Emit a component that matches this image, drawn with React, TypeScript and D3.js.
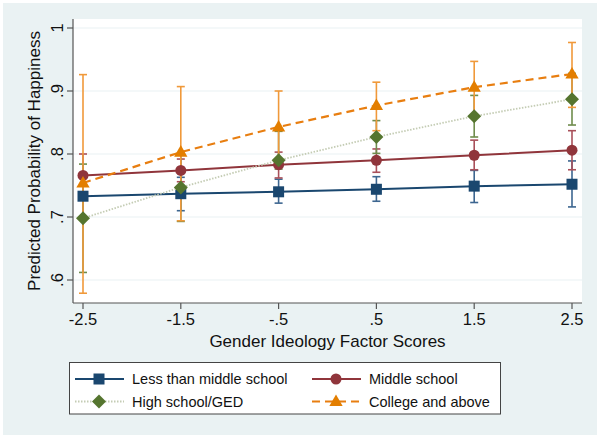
import React from "react";
import * as d3 from "d3";

const xValues = [-2.5, -1.5, -0.5, 0.5, 1.5, 2.5];
const xTickLabels = ["-2.5", "-1.5", "-.5", ".5", "1.5", "2.5"];
const yTicks = [0.6, 0.7, 0.8, 0.9, 1];
const yTickLabels = [".6", ".7", ".8", ".9", "1"];

const lessEst = [0.733, 0.737, 0.740, 0.744, 0.749, 0.752];
const lessLo = [0.700, 0.710, 0.722, 0.725, 0.723, 0.716];
const lessHi = [0.766, 0.763, 0.760, 0.764, 0.774, 0.789];

const midEst = [0.766, 0.774, 0.783, 0.790, 0.798, 0.806];
const midLo = [0.732, 0.756, 0.762, 0.771, 0.775, 0.775];
const midHi = [0.800, 0.792, 0.803, 0.808, 0.822, 0.837];

const hsEst = [0.698, 0.747, 0.790, 0.827, 0.860, 0.887];
const hsLo = [0.612, 0.693, 0.776, 0.801, 0.827, 0.846];
const hsHi = [0.784, 0.800, 0.836, 0.853, 0.893, 0.928];

const colEst = [0.754, 0.803, 0.843, 0.877, 0.906, 0.927];
const colLo = [0.579, 0.694, 0.785, 0.837, 0.862, 0.874];
const colHi = [0.926, 0.907, 0.900, 0.914, 0.947, 0.977];

const seriesNames = ["Less than middle school", "Middle school", "High school/GED", "College and above"];

type Series = {
  name: string;
  est: number[];
  lo: number[];
  hi: number[];
  marker: string;
  color: string;
  ciColor: string;
  lineColor: string;
  dash: string;
  lineWidth: number;
};

const series: Series[] = [
  { name: seriesNames[0], est: lessEst, lo: lessLo, hi: lessHi, marker: "square", color: "#1a476f", ciColor: "#3d6690", lineColor: "#1a476f", dash: "", lineWidth: 2 },
  { name: seriesNames[1], est: midEst, lo: midLo, hi: midHi, marker: "circle", color: "#90353b", ciColor: "#a9505a", lineColor: "#90353b", dash: "", lineWidth: 2 },
  { name: seriesNames[2], est: hsEst, lo: hsLo, hi: hsHi, marker: "diamond", color: "#55752f", ciColor: "#6f8c4c", lineColor: "#c4ccb4", dash: "1.5 1.5", lineWidth: 1.8 },
  { name: seriesNames[3], est: colEst, lo: colLo, hi: colHi, marker: "triangle", color: "#e37e00", ciColor: "#f0993a", lineColor: "#e87e10", dash: "8 5", lineWidth: 2.2 },
];

const W = 600;
const H = 438;
const plotL = 73;
const plotR = 582;
const plotT = 19;
const plotB = 303;

const x = d3.scaleLinear().domain([-2.5, 2.5]).range([83, 572]);
const y = d3.scaleLinear().domain([0.6, 1]).range([280, 28]);

const FONT = "'Liberation Sans', Arial, Helvetica, sans-serif";

function Marker({ type, cx, cy, color }: { type: string; cx: number; cy: number; color: string }) {
  if (type === "square") {
    const s = 11;
    return <rect x={cx - s / 2} y={cy - s / 2} width={s} height={s} fill={color} />;
  }
  if (type === "circle") {
    return <circle cx={cx} cy={cy} r={5.5} fill={color} />;
  }
  if (type === "diamond") {
    const r = 7;
    return <path d={`M${cx},${cy - r}L${cx + r},${cy}L${cx},${cy + r}L${cx - r},${cy}Z`} fill={color} />;
  }
  const r = 7;
  return <path d={`M${cx},${cy - r}L${cx + r * 0.95},${cy + r * 0.65}L${cx - r * 0.95},${cy + r * 0.65}Z`} fill={color} />;
}

export default function App() {
  const line = d3
    .line<number>()
    .x((_, i) => x(xValues[i]))
    .y((d) => y(d));

  const capW = 4;

  const legendRows = [
    { s: series[0], lx: 75, ly: 379 },
    { s: series[1], lx: 312, ly: 379 },
    { s: series[2], lx: 75, ly: 401.5 },
    { s: series[3], lx: 312, ly: 401.5 },
  ];

  return (
    <svg
      width={W}
      height={H}
      viewBox={`0 0 ${W} ${H}`}
      style={{ position: "absolute", left: 0, top: 0, display: "block" }}
      fontFamily={FONT}
    >
      <rect x={0} y={0} width={W} height={H} fill="#ffffff" />
      <rect x={3} y={3} width={594} height={432} fill="#eaf2f3" />
      <rect x={plotL} y={plotT} width={plotR - plotL} height={plotB - plotT} fill="#ffffff" />

      {/* gridlines */}
      {yTicks.map((t) => (
        <line key={"g" + t} x1={plotL} x2={plotR} y1={y(t)} y2={y(t)} stroke="#eaf2f3" strokeWidth={1.2} />
      ))}

      {/* axes */}
      <line x1={plotL} x2={plotL} y1={plotT} y2={plotB} stroke="#555" strokeWidth={1.2} />
      <line x1={plotL} x2={plotR} y1={plotB} y2={plotB} stroke="#555" strokeWidth={1.2} />

      {yTicks.map((t, i) => (
        <g key={"yt" + t}>
          <line x1={plotL - 6} x2={plotL} y1={y(t)} y2={y(t)} stroke="#555" strokeWidth={1.2} />
          <text
            transform={`translate(63,${y(t)}) rotate(-90)`}
            textAnchor="middle"
            fontSize={16.5}
            fill="#111"
          >
            {yTickLabels[i]}
          </text>
        </g>
      ))}

      {xValues.map((v, i) => (
        <g key={"xt" + v}>
          <line x1={x(v)} x2={x(v)} y1={plotB} y2={plotB + 6} stroke="#555" strokeWidth={1.2} />
          <text x={x(v)} y={325} textAnchor="middle" fontSize={16.5} fill="#111">
            {xTickLabels[i]}
          </text>
        </g>
      ))}

      <text transform={`translate(40,${(plotT + plotB) / 2}) rotate(-90)`} textAnchor="middle" fontSize={17} fill="#111">
        Predicted Probability of Happiness
      </text>
      <text x={(plotL + plotR) / 2} y={347} textAnchor="middle" fontSize={17} fill="#111">
        Gender Ideology Factor Scores
      </text>

      {/* confidence intervals */}
      {series.map((s) =>
        xValues.map((v, i) => (
          <g key={s.name + "ci" + i} stroke={s.ciColor} strokeWidth={1.6}>
            <line x1={x(v)} x2={x(v)} y1={y(s.lo[i])} y2={y(s.hi[i])} />
            <line x1={x(v) - capW} x2={x(v) + capW} y1={y(s.lo[i])} y2={y(s.lo[i])} />
            <line x1={x(v) - capW} x2={x(v) + capW} y1={y(s.hi[i])} y2={y(s.hi[i])} />
          </g>
        ))
      )}

      {/* lines and markers */}
      {series.map((s) => (
        <g key={s.name + "ln"}>
          <path d={line(s.est) || ""} fill="none" stroke={s.lineColor} strokeWidth={s.lineWidth} strokeDasharray={s.dash || undefined} />
          {s.est.map((d, i) => (
            <Marker key={i} type={s.marker} cx={x(xValues[i])} cy={y(d)} color={s.color} />
          ))}
        </g>
      ))}

      {/* legend */}
      <rect x={69.5} y={362.5} width={431} height={51.5} fill="#ffffff" stroke="#444" strokeWidth={1} />
      {legendRows.map(({ s, lx, ly }) => (
        <g key={"lg" + s.name}>
          <line x1={lx} x2={lx + 49} y1={ly} y2={ly} stroke={s.lineColor} strokeWidth={s.lineWidth} strokeDasharray={s.dash || undefined} />
          <Marker type={s.marker} cx={lx + 24} cy={ly} color={s.color} />
          <text x={lx + 57} y={ly + 5} fontSize={14.5} fill="#111">
            {s.name}
          </text>
        </g>
      ))}
    </svg>
  );
}
